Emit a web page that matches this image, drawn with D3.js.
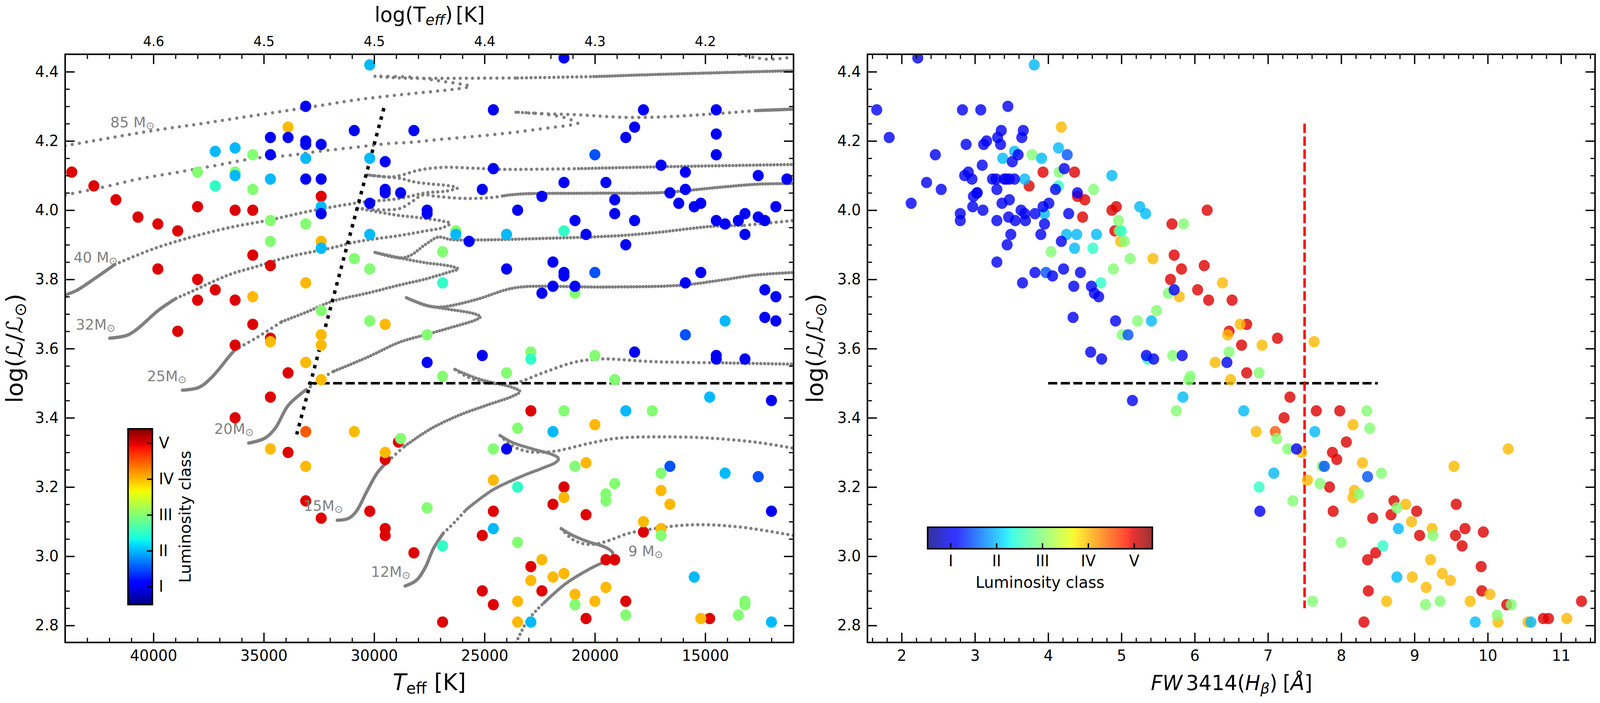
<!DOCTYPE html>
<html>
<head>
<meta charset="utf-8">
<script src="https://cdn.jsdelivr.net/npm/d3@7"></script>
<style>
  html, body { margin: 0; padding: 0; background: white; overflow: hidden; width: 100%; height: 100%; }
  svg { display: block; width: 100vw; height: 100vh; }
  text { font-family: "DejaVu Sans", sans-serif; fill: black; }
</style>
</head>
<body>
<!-- the browser window tops out below the drawing's 4200 wide, so the drawing is fitted to the window -->
<svg id="chart" viewBox="0 0 4200 1800" preserveAspectRatio="none"></svg>
<script>
// left panel stars [Teff, log L] per luminosity class
let hrdClassV = [[43700,4.11],[42700,4.07],[41700,4.03],[40700,3.98],[39800,3.96],[38900,3.94],[38000,4.01],[36300,4.00],[35500,4.00],[32400,4.04],[35500,3.87],[34700,3.84],[39800,3.83],[38000,3.80],[37200,3.77],[38000,3.74],[36300,3.74],[35500,3.67],[38900,3.65],[34700,3.63],[36300,3.61],[33900,3.53],[34700,3.46],[36300,3.40],[28900,3.33],[33900,3.30],[29500,3.28],[33100,3.16],[30200,3.13],[32400,3.11],[29500,3.08],[29500,3.06],[28200,3.01],[22900,3.42],[21400,3.20],[21900,3.15],[24600,3.13],[20400,3.12],[17800,3.07],[25100,3.06],[19500,2.99],[19100,2.99],[22900,2.97],[25100,2.90],[22400,2.90],[18600,2.87],[24600,2.86],[20400,2.82],[14800,2.82],[26900,2.81]];
let hrdClassIVV = [[33100,3.36]];
let hrdClassIV = [[33900,4.24],[32400,3.91],[33100,3.79],[35500,3.75],[29500,3.67],[34700,3.62],[32400,3.64],[32400,3.61],[33100,3.56],[32400,3.51],[30900,3.36],[34700,3.31],[29500,3.30],[33100,3.26],[20000,3.38],[20400,3.27],[24600,3.22],[17000,3.19],[21400,3.17],[16600,3.15],[17800,3.10],[17000,3.08],[22400,2.99],[21400,2.95],[21900,2.94],[22900,2.93],[19500,2.91],[20900,2.89],[23500,2.87],[20000,2.87],[15200,2.82],[23500,2.81]];
let hrdClassIII = [[35500,4.16],[38000,4.11],[36300,4.11],[35500,4.06],[34700,3.97],[33100,3.96],[34700,3.91],[26300,3.94],[26900,3.88],[30900,3.86],[30200,3.83],[32400,3.71],[30200,3.68],[27600,3.64],[20900,3.76],[22900,3.59],[20000,3.58],[26900,3.52],[24000,3.53],[19100,3.51],[21400,3.42],[17400,3.42],[23500,3.37],[28800,3.34],[24600,3.31],[20900,3.26],[17000,3.24],[19100,3.21],[19500,3.18],[19500,3.16],[27600,3.14],[17000,3.06],[23500,3.04],[13200,2.87],[20900,2.86],[13200,2.86],[18600,2.83],[13500,2.83]];
let hrdClassIIIII = [[37200,4.07],[21400,3.94],[26900,3.79],[22900,3.57],[23500,3.20],[26900,3.03]];
let hrdClassII = [[30200,4.42],[37200,4.17],[36300,4.18],[33100,4.15],[30200,4.15],[36300,4.10],[34700,4.09],[32400,4.01],[30200,3.93],[32400,3.89],[26300,3.93],[24000,3.93],[14100,3.68],[14800,3.46],[18600,3.42],[21900,3.36],[14100,3.24],[24600,3.08],[15500,2.94],[22900,2.81],[12000,2.81]];
let hrdClassIII_ = [[20000,4.16],[20000,3.82],[15900,3.64],[16600,3.26],[12600,3.23]];
let hrdClassI = [[33100,4.30],[34700,4.21],[33900,4.21],[33100,4.20],[33100,4.19],[32400,4.19],[30900,4.23],[28200,4.23],[34700,4.16],[29500,4.14],[33100,4.09],[32400,4.09],[29500,4.06],[29500,4.05],[28800,4.05],[32400,3.99],[30200,4.02],[21400,4.44],[24600,4.29],[17800,4.29],[14500,4.29],[18200,4.24],[18600,4.21],[14500,4.22],[14500,4.16],[17000,4.13],[24600,4.12],[15900,4.11],[12600,4.10],[11300,4.09],[21400,4.08],[19500,4.08],[15900,4.06],[25100,4.06],[22400,4.04],[16600,4.05],[19100,4.03],[16200,4.02],[15200,4.02],[15500,4.01],[11800,4.01],[27600,4.00],[27600,3.99],[23500,4.00],[19100,3.99],[20900,3.97],[18200,3.97],[14500,3.97],[14100,3.96],[13500,3.97],[13200,3.99],[12600,3.98],[12300,3.97],[13200,3.93],[20400,3.93],[25700,3.91],[18600,3.90],[21900,3.85],[24000,3.83],[21400,3.82],[21400,3.81],[15200,3.82],[21900,3.78],[20900,3.78],[22400,3.76],[15900,3.79],[12300,3.77],[11800,3.75],[12300,3.69],[11800,3.68],[25100,3.58],[18200,3.59],[14500,3.58],[27600,3.56],[14500,3.57],[13200,3.57],[12000,3.45],[24000,3.31],[12000,3.13]];

// right panel stars [FW3414, log L] per luminosity class
let fwClassV = [[3.93,4.11],[4.36,4.11],[3.74,4.07],[4.40,4.04],[4.50,4.03],[4.93,4.01],[4.87,4.00],[6.17,4.00],[4.47,3.98],[5.69,3.96],[4.91,3.94],[5.72,3.87],[6.13,3.84],[5.82,3.83],[5.67,3.80],[6.04,3.77],[6.19,3.74],[6.51,3.74],[6.71,3.67],[6.47,3.65],[7.13,3.63],[6.64,3.61],[6.71,3.53],[7.30,3.46],[7.66,3.42],[7.98,3.42],[7.22,3.40],[8.07,3.33],[7.88,3.30],[7.94,3.28],[7.84,3.20],[8.72,3.16],[9.57,3.15],[7.89,3.13],[9.03,3.13],[8.68,3.12],[8.43,3.11],[9.69,3.08],[9.94,3.07],[9.07,3.06],[9.56,3.06],[9.65,3.03],[8.47,3.01],[8.36,2.99],[9.91,2.97],[8.37,2.90],[9.92,2.90],[11.28,2.87],[10.26,2.86],[10.76,2.82],[10.83,2.82],[8.31,2.81]];
let fwClassIVV = [[7.10,3.36]];
let fwClassIV = [[4.18,4.24],[4.99,3.91],[5.43,3.86],[6.38,3.79],[5.79,3.75],[6.62,3.67],[6.45,3.64],[7.63,3.62],[6.92,3.61],[6.28,3.56],[6.49,3.51],[8.16,3.38],[6.84,3.36],[7.46,3.30],[10.28,3.31],[8.29,3.27],[9.54,3.26],[7.54,3.22],[8.18,3.19],[8.16,3.17],[8.88,3.15],[8.96,3.10],[9.24,3.08],[9.22,2.99],[9.38,2.95],[8.97,2.94],[9.49,2.93],[9.16,2.91],[10.03,2.89],[8.62,2.87],[9.76,2.87],[11.08,2.82],[10.14,2.81],[10.55,2.81]];
let fwClassIII = [[3.78,4.16],[4.15,4.11],[4.62,4.06],[4.96,3.97],[5.85,3.96],[4.97,3.94],[5.04,3.91],[4.04,3.88],[5.12,3.86],[4.89,3.83],[5.64,3.76],[5.48,3.71],[5.22,3.68],[5.01,3.64],[5.70,3.58],[6.47,3.59],[5.94,3.52],[5.92,3.51],[6.88,3.53],[5.75,3.42],[8.35,3.42],[8.39,3.37],[7.12,3.34],[7.27,3.31],[7.74,3.26],[8.55,3.24],[7.71,3.21],[8.24,3.18],[7.34,3.16],[8.76,3.14],[9.25,3.06],[8.00,3.04],[7.61,2.87],[9.35,2.87],[9.15,2.86],[10.32,2.86],[10.13,2.83]];
let fwClassIIIII = [[4.14,4.07],[5.00,3.94],[4.61,3.89],[4.72,3.79],[5.36,3.57],[6.88,3.20],[8.57,3.03]];
let fwClassII = [[3.81,4.42],[4.14,4.18],[3.54,4.17],[3.91,4.15],[3.38,4.15],[4.87,4.10],[3.68,4.09],[5.25,4.01],[3.95,3.99],[5.33,3.99],[4.25,3.93],[4.39,3.93],[4.66,3.93],[4.36,3.89],[5.41,3.68],[5.84,3.46],[6.67,3.42],[7.64,3.36],[7.08,3.24],[8.78,3.08],[8.76,2.94],[9.83,2.81],[10.59,2.81]];
let fwClassIII_ = [[4.26,4.16],[3.97,3.82],[5.09,3.64],[7.77,3.26],[8.36,3.23]];
let fwClassI = [[2.22,4.44],[1.66,4.29],[2.83,4.29],[3.08,4.29],[3.45,4.30],[1.83,4.21],[3.36,4.23],[3.66,4.23],[3.31,4.21],[3.64,4.21],[2.88,4.19],[3.16,4.20],[3.12,4.19],[3.35,4.19],[2.46,4.16],[3.59,4.16],[3.51,4.14],[3.10,4.13],[4.22,4.12],[2.91,4.11],[2.86,4.10],[2.96,4.09],[3.24,4.09],[3.29,4.09],[3.40,4.09],[3.43,4.09],[3.47,4.09],[3.54,4.09],[2.34,4.08],[2.54,4.06],[3.30,4.06],[4.10,4.06],[3.03,4.05],[3.03,4.05],[2.98,4.04],[4.40,4.05],[3.47,4.03],[3.37,4.02],[4.01,4.02],[2.13,4.02],[2.97,4.01],[3.93,4.01],[3.11,4.00],[3.63,4.00],[2.80,3.99],[3.68,3.99],[3.82,3.99],[4.28,3.99],[3.46,3.98],[2.80,3.97],[3.30,3.97],[3.55,3.97],[3.69,3.97],[3.95,3.96],[3.49,3.93],[3.90,3.93],[4.18,3.91],[3.44,3.90],[3.30,3.85],[3.82,3.82],[4.44,3.82],[4.21,3.83],[4.06,3.81],[3.65,3.79],[4.35,3.78],[4.59,3.78],[5.72,3.77],[4.63,3.76],[4.69,3.75],[4.34,3.69],[4.92,3.68],[4.58,3.59],[4.73,3.57],[5.34,3.58],[5.44,3.57],[5.83,3.58],[6.44,3.56],[5.15,3.45],[7.39,3.31],[6.89,3.13]];

// evolutionary tracks [Teff, log L]
let track85a = [[44000,4.186],[42848,4.199],[40017,4.230],[38052,4.248],[35394,4.274],[33083,4.296],[30771,4.319],[29038,4.332],[27327,4.343],[26171,4.351],[25651,4.358],[26055,4.364],[27095,4.374],[28251,4.384],[29962,4.387]];
let track85b = [[29962,4.387],[28830,4.382],[27673,4.381],[23513,4.382]];
let track85c = [[23513,4.382],[20046,4.386]];
let track85d = [[20046,4.386],[17272,4.392],[11000,4.403]];
let track85top = [[13458,4.450],[12649,4.440],[12071,4.436],[11000,4.443]];
let track60a = [[44000,4.044],[42097,4.069],[40768,4.089],[39323,4.105],[37185,4.129],[35394,4.150],[33891,4.158],[32505,4.170],[30656,4.183],[29269,4.193],[28367,4.196],[27095,4.204],[25478,4.213],[23917,4.223],[22068,4.238],[21086,4.246],[20774,4.251],[21201,4.264],[21895,4.274],[22935,4.281],[23571,4.283]];
let track60b = [[23571,4.283],[22357,4.279],[20566,4.275],[19005,4.269],[17850,4.268],[16116,4.272],[14498,4.279],[12649,4.288]];
let track60c = [[12649,4.288],[11000,4.292]];
let track40a = [[44000,3.755],[43484,3.768],[42559,3.807],[41750,3.843]];
let track40b = [[41750,3.843],[40017,3.888],[38399,3.920],[36550,3.950],[34700,3.972],[33083,3.995],[30771,4.021],[28830,4.034],[27673,4.050],[26749,4.055],[26229,4.064],[26633,4.071],[27327,4.075],[28136,4.081],[28830,4.092],[29615,4.097],[30309,4.102]];
let track40c = [[30309,4.102],[29269,4.096],[28829,4.100],[28020,4.115],[27442,4.121],[26749,4.124],[25362,4.121],[24206,4.118],[20739,4.120]];
let track40d = [[20739,4.120],[17272,4.125],[11000,4.132]];
let track32a = [[41981,3.630],[41173,3.639],[40710,3.658],[39786,3.710],[38977,3.745]];
let track32b = [[38977,3.745],[38168,3.768],[36550,3.814],[35394,3.836],[33891,3.865],[31927,3.891],[30771,3.909],[28830,3.927],[27673,3.940],[26864,3.950],[26552,3.962],[26864,3.968],[27673,3.976],[28482,3.982],[28922,3.985],[30771,4.006]];
let track32c = [[30771,4.006],[29847,4.001],[28829,4.005],[28367,4.021],[27789,4.044],[27211,4.040],[25940,4.034],[24784,4.036],[24091,4.042]];
let track32d = [[24091,4.042],[23282,4.047],[20161,4.049],[16925,4.051],[14382,4.066],[12649,4.075],[11000,4.077]];
let track25a = [[38688,3.480],[37937,3.488],[37359,3.517],[36550,3.579],[36318,3.596]];
let track25b = [[36318,3.596],[35394,3.629],[34180,3.678]];
let track25c = [[34180,3.678],[33083,3.705],[31927,3.736],[30193,3.762],[28830,3.784],[27673,3.801],[26518,3.823],[26194,3.830],[26518,3.838],[27673,3.848],[28598,3.859],[29962,3.878]];
let track25d = [[29962,3.878],[28829,3.862],[28367,3.869],[27673,3.901],[27095,3.922],[26518,3.915],[25362,3.914],[23051,3.917],[19005,3.926],[17272,3.935],[14730,3.953],[13227,3.956]];
let track25e = [[13227,3.956],[11000,3.970]];
let track20a = [[35683,3.327],[34931,3.342],[34469,3.371],[33891,3.436],[33083,3.481]];
let track20b = [[33083,3.481],[32043,3.527],[31811,3.535]];
let track20c = [[31811,3.535],[30309,3.575],[28829,3.619],[27558,3.642],[26518,3.661],[25362,3.684],[25189,3.692],[25478,3.701],[26864,3.716],[27673,3.726],[28540,3.747]];
let track20d = [[28540,3.747],[27558,3.723],[26864,3.721],[25362,3.742],[23975,3.771],[23166,3.779],[19583,3.778],[16116,3.783],[14382,3.797],[12649,3.813],[11000,3.820]];
let track15a = [[31673,3.104],[31176,3.109],[30829,3.128],[30309,3.190],[29847,3.242],[29384,3.274]];
let track15b = [[29384,3.274],[28830,3.306],[28598,3.319]];
let track15c = [[28598,3.319],[27442,3.368],[26171,3.407],[24784,3.439],[23744,3.462],[23397,3.476],[23744,3.488],[24784,3.504],[25478,3.517],[26344,3.540]];
let track15d = [[26344,3.540],[25824,3.520],[24900,3.501],[23628,3.501],[22357,3.530],[20970,3.560],[19815,3.570],[17272,3.562],[14382,3.559]];
let track15e = [[14382,3.559],[11000,3.555]];
let track12a = [[28598,2.914],[28078,2.931],[27673,2.969],[27327,3.021],[26864,3.067]];
let track12b = [[26864,3.067],[26344,3.099],[25824,3.135]];
let track12c = [[25824,3.135],[24668,3.190],[23282,3.232],[22357,3.255],[21779,3.271],[21640,3.282],[21895,3.293],[22819,3.310],[23744,3.329],[24299,3.349]];
let track12d = [[24299,3.349],[23744,3.319],[23051,3.303],[21895,3.303],[20277,3.326],[19005,3.341],[17272,3.345],[14960,3.342],[12649,3.329],[11000,3.312]];
let track9a = [[23571,2.750],[23051,2.814],[22299,2.866]];
let track9b = [[22299,2.866],[21317,2.921],[20161,2.966],[19352,2.992],[19179,3.008],[19468,3.024],[20393,3.044],[21086,3.063],[21525,3.080]];
let track9c = [[21525,3.080],[20970,3.047],[20277,3.034],[19583,3.041],[18428,3.067],[17272,3.080],[16116,3.089],[14960,3.091],[13227,3.083],[11000,3.060]];

let trackLabels = ['85 M', '40 M', '32M', '25M', '20M', '15M', '12M', '9 M'];
let trackLabelTeff = [41950, 43620, 43517, 40289, 37243, 33196, 30141, 18491];
let trackLabelLogL = [4.239, 3.849, 3.655, 3.506, 3.3535, 3.1317, 2.9405, 3.0003];

let teffTicks = [40000, 35000, 30000, 25000, 20000, 15000];
let logTeffLabels = ['4.6', '4.5', '4.5', '4.4', '4.3', '4.2'];
let fwTicks = [2, 3, 4, 5, 6, 7, 8, 9, 10, 11];
let logLTicks = [2.8, 3.0, 3.2, 3.4, 3.6, 3.8, 4.0, 4.2, 4.4];
let classTicks = [1, 2, 3, 4, 5];
let classLabels = ['I', 'II', 'III', 'IV', 'V'];

// drawn in this order so the earlier classes sit underneath
let hrdGroups = [[5, hrdClassV], [4.5, hrdClassIVV], [4, hrdClassIV], [3, hrdClassIII], [2.5, hrdClassIIIII], [2, hrdClassII], [1.5, hrdClassIII_], [1, hrdClassI]];
let fwGroups = [[5, fwClassV], [4.5, fwClassIVV], [4, fwClassIV], [3, fwClassIII], [2.5, fwClassIIIII], [2, fwClassII], [1.5, fwClassIII_], [1, fwClassI]];

// matplotlib jet
let jetR = d3.scaleLinear().domain([0, .35, .66, .89, 1]).range([0, 0, 1, 1, .5]);
let jetG = d3.scaleLinear().domain([0, .125, .375, .64, .91, 1]).range([0, 0, 1, 1, 0, 0]);
let jetB = d3.scaleLinear().domain([0, .11, .34, .65, 1]).range([.5, 1, 1, 0, 0]);
let jet = t => `rgb(${jetR(t) * 255},${jetG(t) * 255},${jetB(t) * 255})`;
let classNorm = d3.scaleLinear().domain([0.5, 5.4]).range([0, 1]);
let classColor = c => jet(classNorm(c));

let svg = d3.select('#chart');
let defs = svg.append('defs');

let left = { x0: 171, x1: 2083, y0: 139, y1: 1645 };
let right = { x0: 2277, x1: 4187, y0: 139, y1: 1645 };

let xTeff = d3.scaleLinear().domain([44000, 11000]).range([left.x0, left.x1]);
let xFW = d3.scaleLinear().domain([1.533, 11.465]).range([right.x0, right.x1]);
let y = d3.scaleLinear().domain([4.4, 2.8]).range([183.7, 1601.5]);

gradient('jetV', 0, 1, 0, 0);
gradient('jetH', 0, 0, 1, 0);

leftPanel();
rightPanel();

function gradient(id, x1, y1, x2, y2) {
  defs.append('linearGradient')
    .attr('id', id)
    .attr('x1', x1).attr('y1', y1).attr('x2', x2).attr('y2', y2)
    .selectAll('stop')
    .data(d3.range(0, 101))
    .join('stop')
    .attr('offset', d => `${d}%`)
    .attr('stop-color', d => jet(d / 100));
}

function styleTicks(g, width, fontSize) {
  g.select('.domain').remove();
  g.selectAll('line').attr('stroke', 'black').attr('stroke-width', width);
  g.selectAll('text').attr('font-size', fontSize).style('fill', 'black');
}

function frame(p, x, xMajor, xMinor, xFormat) {
  let g = svg.append('g');
  let minorL = 12, majorL = 25;
  let yMinor = d3.range(56, 89).filter(d => d % 4 != 0).map(d => d / 20);

  [[d3.axisBottom, p.y1], [d3.axisTop, p.y0]].forEach(([axis, yPos]) => {
    g.append('g').attr('transform', `translate(0,${yPos})`)
      .call(axis(x).tickValues(xMinor).tickFormat('').tickSize(-minorL).tickSizeOuter(0))
      .call(styleTicks, 3, 0);
  });
  [[d3.axisLeft, p.x0], [d3.axisRight, p.x1]].forEach(([axis, xPos]) => {
    g.append('g').attr('transform', `translate(${xPos},0)`)
      .call(axis(y).tickValues(yMinor).tickFormat('').tickSize(-minorL).tickSizeOuter(0))
      .call(styleTicks, 3, 0);
  });

  g.append('g').attr('transform', `translate(0,${p.y1})`)
    .call(d3.axisBottom(x).tickValues(xMajor).tickFormat(d3.format('d')).tickSize(-majorL).tickSizeOuter(0).tickPadding(19))
    .call(styleTicks, 3.5, 39);
  g.append('g').attr('transform', `translate(0,${p.y0})`)
    .call(d3.axisTop(x).tickValues(xMajor).tickFormat(xFormat).tickSize(-majorL).tickSizeOuter(0).tickPadding(21))
    .call(styleTicks, 3.5, 35);
  g.append('g').attr('transform', `translate(${p.x0},0)`)
    .call(d3.axisLeft(y).tickValues(logLTicks).tickFormat(d3.format('.1f')).tickSize(-majorL).tickSizeOuter(0).tickPadding(17))
    .call(styleTicks, 3.5, 39);
  g.append('g').attr('transform', `translate(${p.x1},0)`)
    .call(d3.axisRight(y).tickValues(logLTicks).tickFormat('').tickSize(-majorL).tickSizeOuter(0))
    .call(styleTicks, 3.5, 0);

  g.append('rect')
    .attr('x', p.x0).attr('y', p.y0)
    .attr('width', p.x1 - p.x0).attr('height', p.y1 - p.y0)
    .attr('fill', 'none').attr('stroke', 'black').attr('stroke-width', 4);
}

function yTitle(xPos) {
  let t = svg.append('text')
    .attr('transform', `translate(${xPos},892) rotate(-90)`)
    .attr('text-anchor', 'middle')
    .attr('font-size', 60);
  t.append('tspan').text('log(');
  t.append('tspan').attr('font-style', 'italic').text('ℒ');
  t.append('tspan').text('/');
  t.append('tspan').attr('font-style', 'italic').text('ℒ');
  t.append('tspan').attr('font-size', 42).attr('dy', 9).text('⊙');
  t.append('tspan').attr('dy', -9).text(')');
}

function stars(g, groups, x, opacity) {
  groups.forEach(([cls, list]) => {
    g.append('g').selectAll('circle')
      .data(list)
      .join('circle')
      .attr('cx', d => x(d[0]))
      .attr('cy', d => y(d[1]))
      .attr('r', 14.5)
      .attr('fill', classColor(cls))
      .attr('fill-opacity', opacity);
  });
}

function leftPanel() {
  let clipId = 'clipLeft';
  defs.append('clipPath').attr('id', clipId).append('rect')
    .attr('x', left.x0).attr('y', left.y0)
    .attr('width', left.x1 - left.x0).attr('height', left.y1 - left.y0);

  let plot = svg.append('g').attr('clip-path', `url(#${clipId})`);

  let line = d3.line()
    .x(d => xTeff(d[0]))
    .y(d => y(d[1]))
    .curve(d3.curveCatmullRom.alpha(0.5));

  // gap between dots, 0 = the points run together into a solid line
  let segments = [
    [track85a, 19], [track85b, 16], [track85c, 12], [track85d, 7], [track85top, 18],
    [track60a, 20], [track60b, 17], [track60c, 0],
    [track40a, 0], [track40b, 13], [track40c, 14], [track40d, 9],
    [track32a, 0], [track32b, 12], [track32c, 14], [track32d, 7],
    [track25a, 0], [track25b, 14], [track25c, 9], [track25d, 9], [track25e, 14],
    [track20a, 0], [track20b, 14], [track20c, 8], [track20d, 8],
    [track15a, 0], [track15b, 14], [track15c, 8], [track15d, 14], [track15e, 10],
    [track12a, 0], [track12b, 13], [track12c, 6], [track12d, 14],
    [track9a, 12], [track9b, 5], [track9c, 14]
  ];

  plot.append('g').selectAll('path')
    .data(segments)
    .join('path')
    .attr('d', d => line(d[0]))
    .attr('fill', 'none')
    .attr('stroke', '#808080')
    .attr('stroke-width', 8.5)
    .attr('stroke-linecap', 'round')
    .attr('stroke-linejoin', 'round')
    .attr('stroke-dasharray', d => d[1] ? `0 ${d[1]}` : null);

  // boundary line and luminosity cut
  plot.append('line')
    .attr('x1', xTeff(29558)).attr('y1', y(4.295))
    .attr('x2', xTeff(33510)).attr('y2', y(3.352))
    .attr('stroke', 'black').attr('stroke-width', 9)
    .attr('stroke-dasharray', '9 13');
  plot.append('line')
    .attr('x1', xTeff(33000)).attr('y1', y(3.5))
    .attr('x2', xTeff(11000)).attr('y2', y(3.5))
    .attr('stroke', 'black').attr('stroke-width', 6.5)
    .attr('stroke-dasharray', '24 9');

  stars(plot, hrdGroups, xTeff, 1);

  let labels = svg.append('g').selectAll('text')
    .data(trackLabels)
    .join('text')
    .attr('x', (d, i) => xTeff(trackLabelTeff[i]))
    .attr('y', (d, i) => y(trackLabelLogL[i]))
    .attr('font-size', 38)
    .style('fill', '#808080');
  labels.append('tspan').style('fill', '#808080').text(d => d);
  labels.append('tspan').style('fill', '#808080').attr('font-size', 27).attr('dy', 5).text('⊙');

  frame(left, xTeff, teffTicks, d3.range(12000, 44000, 1000).filter(d => d % 5000 != 0),
    d => logTeffLabels[teffTicks.indexOf(d)]);

  // colour bar
  let bar = { x0: 336, x1: 400, y0: 1098, y1: 1548 };
  let barScale = d3.scaleLinear().domain([0.5, 5.4]).range([bar.y1, bar.y0]);
  svg.append('rect')
    .attr('x', bar.x0).attr('y', bar.y0)
    .attr('width', bar.x1 - bar.x0).attr('height', bar.y1 - bar.y0)
    .attr('fill', 'url(#jetV)');
  svg.append('g').attr('transform', `translate(${bar.x1},0)`)
    .call(d3.axisRight(barScale).tickValues(classTicks).tickFormat((d, i) => classLabels[i]).tickSize(-14).tickSizeOuter(0).tickPadding(17))
    .call(styleTicks, 3.5, 40);
  svg.append('rect')
    .attr('x', bar.x0).attr('y', bar.y0)
    .attr('width', bar.x1 - bar.x0).attr('height', bar.y1 - bar.y0)
    .attr('fill', 'none').attr('stroke', 'black').attr('stroke-width', 4);
  svg.append('text')
    .attr('transform', `translate(500,${(bar.y0 + bar.y1) / 2}) rotate(-90)`)
    .attr('text-anchor', 'middle')
    .attr('font-size', 41)
    .text('Luminosity class');

  // axis titles
  let top = svg.append('text').attr('x', 1128).attr('y', 56).attr('text-anchor', 'middle').attr('font-size', 53);
  top.append('tspan').text('log(T');
  top.append('tspan').attr('font-size', 38).attr('font-style', 'italic').attr('dy', 8).text('eff');
  top.append('tspan').attr('dy', -8).text(')');
  top.append('tspan').attr('dx', 8).text('[K]');

  let bottom = svg.append('text').attr('x', 1127).attr('y', 1767).attr('text-anchor', 'middle').attr('font-size', 58);
  bottom.append('tspan').attr('font-style', 'italic').text('T');
  bottom.append('tspan').attr('font-size', 41).attr('dy', 9).text('eff');
  bottom.append('tspan').attr('dy', -9).attr('dx', 20).text('[K]');

  yTitle(59);
}

function rightPanel() {
  let clipId = 'clipRight';
  defs.append('clipPath').attr('id', clipId).append('rect')
    .attr('x', right.x0).attr('y', right.y0)
    .attr('width', right.x1 - right.x0).attr('height', right.y1 - right.y0);

  let plot = svg.append('g').attr('clip-path', `url(#${clipId})`);

  plot.append('line')
    .attr('x1', xFW(4)).attr('y1', y(3.5))
    .attr('x2', xFW(8.5)).attr('y2', y(3.5))
    .attr('stroke', 'black').attr('stroke-width', 6.5)
    .attr('stroke-dasharray', '24 9');
  plot.append('line')
    .attr('x1', xFW(7.5)).attr('y1', y(4.25))
    .attr('x2', xFW(7.5)).attr('y2', y(2.85))
    .attr('stroke', '#ff0000').attr('stroke-width', 6.5)
    .attr('stroke-dasharray', '24 9');

  stars(plot, fwGroups, xFW, 0.8);

  frame(right, xFW, fwTicks, d3.range(8, 58).filter(d => d % 5 != 0).map(d => d / 5), '');

  // colour bar
  let bar = { x0: 2435, x1: 3025, y0: 1350, y1: 1405 };
  let barScale = d3.scaleLinear().domain([0.5, 5.4]).range([bar.x0, bar.x1]);
  svg.append('rect')
    .attr('x', bar.x0).attr('y', bar.y0)
    .attr('width', bar.x1 - bar.x0).attr('height', bar.y1 - bar.y0)
    .attr('fill', 'url(#jetH)')
    .attr('fill-opacity', 0.8);
  svg.append('g').attr('transform', `translate(0,${bar.y1})`)
    .call(d3.axisBottom(barScale).tickValues(classTicks).tickFormat((d, i) => classLabels[i]).tickSize(-14).tickSizeOuter(0).tickPadding(17))
    .call(styleTicks, 3.5, 40);
  svg.append('rect')
    .attr('x', bar.x0).attr('y', bar.y0)
    .attr('width', bar.x1 - bar.x0).attr('height', bar.y1 - bar.y0)
    .attr('fill', 'none').attr('stroke', 'black').attr('stroke-width', 4);
  svg.append('text')
    .attr('x', (bar.x0 + bar.x1) / 2).attr('y', 1505)
    .attr('text-anchor', 'middle')
    .attr('font-size', 41)
    .text('Luminosity class');

  let bottom = svg.append('text').attr('x', 3233).attr('y', 1767).attr('text-anchor', 'middle').attr('font-size', 53);
  bottom.append('tspan').attr('font-style', 'italic').text('FW');
  bottom.append('tspan').attr('dx', 9).text('3414(');
  bottom.append('tspan').attr('font-style', 'italic').text('H');
  bottom.append('tspan').attr('font-size', 38).attr('font-style', 'italic').attr('dy', 8).text('β');
  bottom.append('tspan').attr('dy', -8).text(')');
  bottom.append('tspan').attr('dx', 14).text('[');
  bottom.append('tspan').attr('font-style', 'italic').text('Å');
  bottom.append('tspan').text(']');

  yTitle(2160);
}
</script>
</body>
</html>
